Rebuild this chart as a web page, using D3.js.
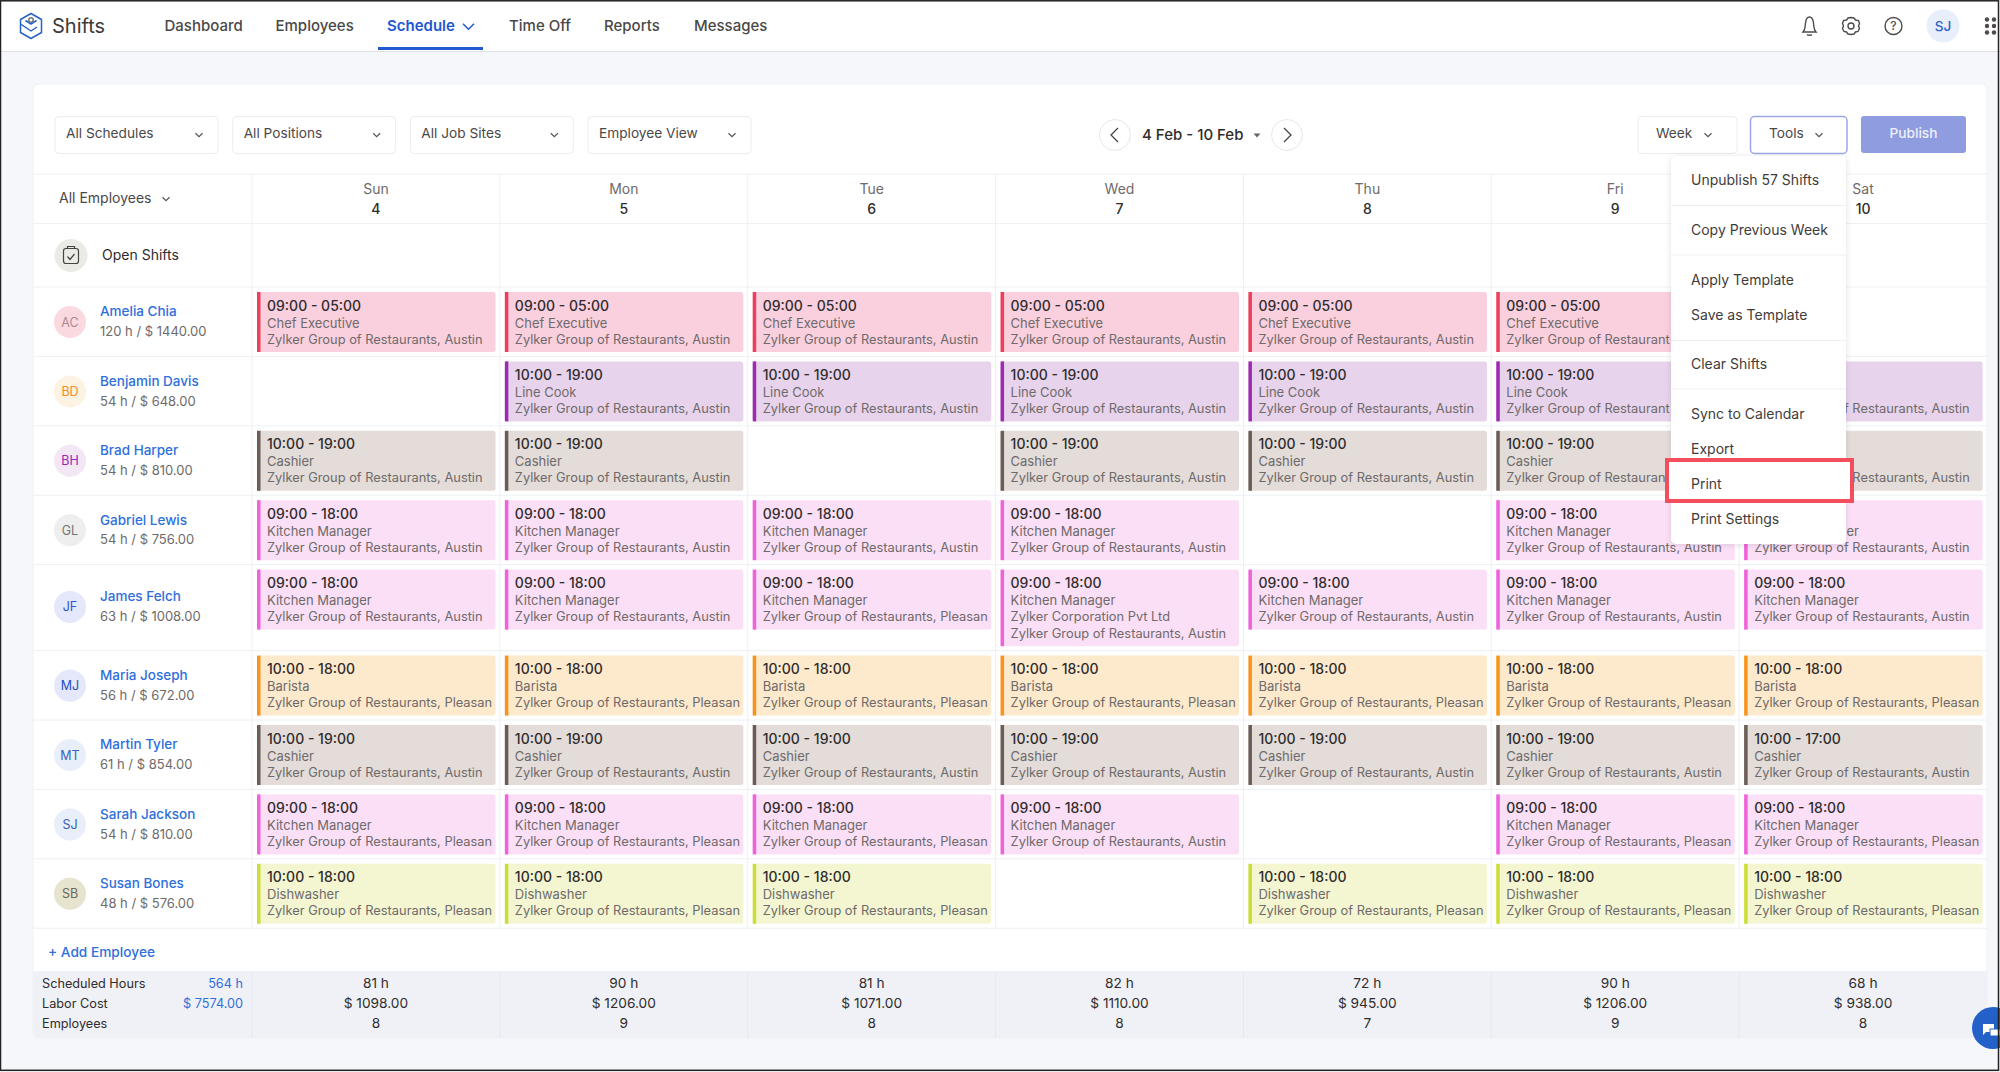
<!DOCTYPE html>
<html>
<head>
<meta charset="utf-8">
<script src="https://cdn.jsdelivr.net/npm/d3@7"></script>
<style>
  html, body { margin: 0; padding: 0; background: #fff; }
  svg { display: block; }
  text { font-family: Inter, "Noto Sans", sans-serif; }
</style>
</head>
<body>
<div id="chart"></div>
<script>
// labels
const navItems = ["Dashboard", "Employees", "Schedule", "Time Off", "Reports", "Messages"];
const filters = ["All Schedules", "All Positions", "All Job Sites", "Employee View"];
const menuItems = ["Unpublish 57 Shifts", "Copy Previous Week", "Apply Template", "Save as Template", "Clear Shifts", "Sync to Calendar", "Export", "Print", "Print Settings"];
const days = ["Sun", "Mon", "Tue", "Wed", "Thu", "Fri", "Sat"];
const dates = [4, 5, 6, 7, 8, 9, 10];

// employees
const employees = ["Amelia Chia", "Benjamin Davis", "Brad Harper", "Gabriel Lewis", "James Felch", "Maria Joseph", "Martin Tyler", "Sarah Jackson", "Susan Bones"];
const initials = ["AC", "BD", "BH", "GL", "JF", "MJ", "MT", "SJ", "SB"];
const employeeHours = [120, 54, 54, 54, 63, 56, 61, 54, 48];
const employeeCost = ["1440.00", "648.00", "810.00", "756.00", "1008.00", "672.00", "854.00", "810.00", "576.00"];
const positions = ["Chef Executive", "Line Cook", "Cashier", "Kitchen Manager", "Kitchen Manager", "Barista", "Cashier", "Kitchen Manager", "Dishwasher"];

// shift time by employee and day, null = no shift
const shiftTimes = [
  ["09:00 - 05:00", "09:00 - 05:00", "09:00 - 05:00", "09:00 - 05:00", "09:00 - 05:00", "09:00 - 05:00", null],
  [null, "10:00 - 19:00", "10:00 - 19:00", "10:00 - 19:00", "10:00 - 19:00", "10:00 - 19:00", "10:00 - 19:00"],
  ["10:00 - 19:00", "10:00 - 19:00", null, "10:00 - 19:00", "10:00 - 19:00", "10:00 - 19:00", "10:00 - 19:00"],
  ["09:00 - 18:00", "09:00 - 18:00", "09:00 - 18:00", "09:00 - 18:00", null, "09:00 - 18:00", "09:00 - 18:00"],
  ["09:00 - 18:00", "09:00 - 18:00", "09:00 - 18:00", "09:00 - 18:00", "09:00 - 18:00", "09:00 - 18:00", "09:00 - 18:00"],
  ["10:00 - 18:00", "10:00 - 18:00", "10:00 - 18:00", "10:00 - 18:00", "10:00 - 18:00", "10:00 - 18:00", "10:00 - 18:00"],
  ["10:00 - 19:00", "10:00 - 19:00", "10:00 - 19:00", "10:00 - 19:00", "10:00 - 19:00", "10:00 - 19:00", "10:00 - 17:00"],
  ["09:00 - 18:00", "09:00 - 18:00", "09:00 - 18:00", "09:00 - 18:00", null, "09:00 - 18:00", "09:00 - 18:00"],
  ["10:00 - 18:00", "10:00 - 18:00", "10:00 - 18:00", null, "10:00 - 18:00", "10:00 - 18:00", "10:00 - 18:00"]
];
const austin = "Zylker Group of Restaurants, Austin";
const pleasan = "Zylker Group of Restaurants, Pleasan";
const corp = "Zylker Corporation Pvt Ltd";
const shiftSites = [
  [[austin], [austin], [austin], [austin], [austin], [austin], []],
  [[], [austin], [austin], [austin], [austin], [austin], [austin]],
  [[austin], [austin], [], [austin], [austin], [austin], [austin]],
  [[austin], [austin], [austin], [austin], [], [austin], [austin]],
  [[austin], [austin], [pleasan], [corp, austin], [austin], [austin], [austin]],
  [[pleasan], [pleasan], [pleasan], [pleasan], [pleasan], [pleasan], [pleasan]],
  [[austin], [austin], [austin], [austin], [austin], [austin], [austin]],
  [[pleasan], [pleasan], [pleasan], [austin], [], [pleasan], [pleasan]],
  [[pleasan], [pleasan], [pleasan], [], [pleasan], [pleasan], [pleasan]]
];

// footer
const totalHours = ["81 h", "90 h", "81 h", "82 h", "72 h", "90 h", "68 h"];
const totalCost = ["$ 1098.00", "$ 1206.00", "$ 1071.00", "$ 1110.00", "$ 945.00", "$ 1206.00", "$ 938.00"];
const totalPeople = [8, 9, 8, 8, 7, 9, 8];

// colours by position: [fill, accent]
const positionColor = {
  "Chef Executive": ["#fad0df", "#ec3f5c"],
  "Line Cook": ["#e8d3ec", "#9c2bb0"],
  "Cashier": ["#e3dcd9", "#6b5c55"],
  "Kitchen Manager": ["#fbdff7", "#ee62da"],
  "Barista": ["#fde9cc", "#f7941d"],
  "Dishwasher": ["#f4f6d2", "#cddc39"]
};
const avatarColor = {
  AC: ["#fbd9e0", "#a98a90"], BD: ["#fdf3e3", "#f58a2c"], BH: ["#f3e6f5", "#9c27b0"],
  GL: ["#eeeeee", "#757575"], JF: ["#e4e8fa", "#2f55c8"], MJ: ["#e4e8fa", "#2050c0"],
  MT: ["#e8eefa", "#3a62b8"], SJ: ["#e8eefa", "#3a62b8"], SB: ["#e6e3cf", "#6b6a5c"]
};

const W = 2000, H = 1072;
const ink = "#2f2c2c", soft = "#6e6a6a", navInk = "#4b4848", blue = "#2f6fdc", activeBlue = "#2257cf", gridLine = "#eef0f3";

const svg = d3.select("#chart").append("svg").attr("width", W).attr("height", H);

function label(g, x, y, str, size, color, anchor, weight) {
  return g.append("text").attr("x", x).attr("y", y).attr("dy", "0.36em")
    .attr("font-size", size).attr("fill", color)
    .attr("text-anchor", anchor || "start").attr("font-weight", weight || 400).text(str);
}
function chevron(g, cx, cy, w, color, sw) {
  g.append("path").attr("d", "M" + (cx - w) + "," + (cy - w / 2) + "L" + cx + "," + (cy + w / 2) + "L" + (cx + w) + "," + (cy - w / 2))
    .attr("fill", "none").attr("stroke", color).attr("stroke-width", sw || 1.2);
}

// page + shadow filter
const defs = svg.append("defs");
const menuShadow = defs.append("filter").attr("id", "menuShadow").attr("x", "-10%").attr("y", "-10%").attr("width", "120%").attr("height", "120%");
menuShadow.append("feDropShadow").attr("dx", 0).attr("dy", 1).attr("stdDeviation", 3).attr("flood-color", "#000").attr("flood-opacity", 0.12);

svg.append("rect").attr("width", W).attr("height", H).attr("fill", "#f6f7fa");

// top bar
const header = svg.append("g");
header.append("rect").attr("width", W).attr("height", 51).attr("fill", "#fff");
header.append("line").attr("x1", 0).attr("x2", W).attr("y1", 51.5).attr("y2", 51.5).attr("stroke", "#dfe1e6");
const logo = header.append("g").attr("transform", "translate(31,26)").attr("fill", "none").attr("stroke", "#2563c9").attr("stroke-width", 1.5).attr("stroke-linejoin", "round");
logo.append("path").attr("d", "M0,-12.5L10.5,-6.5V6.5L0,12.5L-10.5,6.5V-6.5Z");
logo.append("path").attr("d", "M-10.5,-2L0,5L6,1M-5.5,-5.5L0,-2L5.5,-5.5");
logo.append("circle").attr("cy", -6).attr("r", 2.2).attr("stroke", "#777");
label(header, 52, 26, "Shifts", 20, "#3c3a3a");
const navX = d3.scaleOrdinal(navItems, [164.5, 275.5, 387, 509, 604, 694]);
navItems.forEach(function (d) {
  label(header, navX(d), 26, d, 15, d == "Schedule" ? activeBlue : navInk, "start", d == "Schedule" ? 600 : 500);
});
chevron(header, 468.5, 26.5, 5.5, activeBlue, 1.5);
header.append("rect").attr("x", 378).attr("y", 47).attr("width", 105).attr("height", 3).attr("fill", activeBlue);

const icons = header.append("g").attr("fill", "none").attr("stroke", "#4f4b4b").attr("stroke-width", 1.4);
icons.append("path").attr("d", "M1803,32H1816C1813.5,29.5 1814,27 1813.5,23C1813,18.5 1811.5,17 1809.5,17C1807.5,17 1806,18.5 1805.5,23C1805,27 1805.5,29.5 1803,32ZM1807,34.5C1808,35.5 1811,35.5 1812,34.5");
icons.append("circle").attr("cx", 1851).attr("cy", 26).attr("r", 3);
icons.append("path").attr("d", "M1851,17.5L1854,18L1855.5,20L1858.5,20.5L1859.5,23.5L1858.5,26L1859.5,28.5L1858,31.5L1855.5,32L1854,34L1851,34.5L1848,34L1846.5,32L1844,31.5L1842.5,28.5L1843.5,26L1842.5,23.5L1843.5,20.5L1846.5,20L1848,18Z");
icons.append("circle").attr("cx", 1893.5).attr("cy", 26).attr("r", 8.5);
label(header, 1893.5, 26, "?", 12, "#4f4b4b", "middle", 500);
header.append("circle").attr("cx", 1943).attr("cy", 26).attr("r", 16.5).attr("fill", "#e8eefa");
label(header, 1943, 26, "SJ", 13.5, "#2f62c8", "middle", 500);
d3.cross([1987, 1994], [19.5, 26, 32.5]).forEach(function (d) {
  header.append("circle").attr("cx", d[0]).attr("cy", d[1]).attr("r", 2.2).attr("fill", "#4f4b4b");
});

// card
svg.append("rect").attr("x", 33).attr("y", 84).attr("width", 1954).attr("height", 954).attr("rx", 6).attr("fill", "#fff").attr("stroke", "#f0f1f4");

// filter bar
const bar = svg.append("g");
function box(x, w, txt, textX, caretX, stroke) {
  bar.append("rect").attr("x", x).attr("y", 116.5).attr("width", w).attr("height", 37).attr("rx", 4).attr("fill", "#fff").attr("stroke", stroke || "#eaecef").attr("stroke-width", stroke ? 1.5 : 1);
  label(bar, textX, 133.5, txt, 13.7, navInk);
  chevron(bar, caretX, 135, 3.5, "#555");
}
const filterX = d3.scalePoint(filters, [55, 588]);
filters.forEach(function (d) {
  box(filterX(d), 163, d, filterX(d) + 11, filterX(d) + 144);
});
box(1638, 99, "Week", 1656, 1708);
box(1750.5, 96.5, "Tools", 1769, 1819, "#9aa8e6");
bar.append("rect").attr("x", 1861).attr("y", 116).attr("width", 105).attr("height", 37).attr("rx", 3).attr("fill", "#8f9ce0");
label(bar, 1913.5, 133.5, "Publish", 13.7, "#eef0fb", "middle", 500);
[[1115, -1], [1287, 1]].forEach(function (d) {
  bar.append("circle").attr("cx", d[0]).attr("cy", 135).attr("r", 15.5).attr("fill", "#fff").attr("stroke", "#e6e8ec");
  bar.append("path").attr("d", "M" + (d[0] - d[1] * 3) + ",128L" + (d[0] + d[1] * 4) + ",135L" + (d[0] - d[1] * 3) + ",142")
    .attr("fill", "none").attr("stroke", "#444").attr("stroke-width", 1.3);
});
label(bar, 1142, 135, "4 Feb - 10 Feb", 15, ink, "start", 500);
bar.append("path").attr("d", "M1253.5,133.5h7l-3.5,4Z").attr("fill", "#666");

// scales
const x = d3.scaleBand(days, [252, 1987]);
const lineStep = 16.6, baseRow = 69.4;
const rowExtra = shiftSites.map(function (row) {
  return d3.max(row, function (s) { return Math.max(s.length - 1, 0); });
});
const rowTops = Array.from(d3.cumsum([287].concat(rowExtra.map(function (e) { return baseRow + e * lineStep; }))));
const y = d3.scaleOrdinal(employees, rowTops);
const tableBottom = rowTops[rowTops.length - 1];

// grid lines
const grid = svg.append("g").attr("stroke", gridLine);
[174, 223.5].concat(rowTops).forEach(function (v) {
  grid.append("line").attr("x1", 33).attr("x2", 1987).attr("y1", v).attr("y2", v);
});
days.forEach(function (d) {
  grid.append("line").attr("x1", x(d)).attr("x2", x(d)).attr("y1", 174).attr("y2", tableBottom);
});

// day header through axes
const dayAxis = svg.append("g").attr("transform", "translate(0,194)").call(d3.axisTop(x).tickSize(0).tickPadding(0));
const dateAxis = svg.append("g").attr("transform", "translate(0,214)")
  .call(d3.axisTop(x).tickSize(0).tickPadding(0).tickFormat(function (d, i) { return dates[i]; }));
dayAxis.select(".domain").remove();
dateAxis.select(".domain").remove();
dayAxis.selectAll("text").attr("font-size", 14).attr("fill", soft).attr("font-family", "Inter");
dateAxis.selectAll("text").attr("font-size", 14).attr("fill", ink).attr("font-weight", 500).attr("font-family", "Inter");

// left column
const leftCol = svg.append("g");
label(leftCol, 59, 198, "All Employees", 14, navInk);
chevron(leftCol, 166, 199, 3.5, "#555");
leftCol.append("circle").attr("cx", 71).attr("cy", 255.5).attr("r", 16.5).attr("fill", "#ebebe6");
leftCol.append("rect").attr("x", 63.5).attr("y", 248.5).attr("width", 15).attr("height", 15).attr("rx", 2.5).attr("fill", "none").attr("stroke", "#444").attr("stroke-width", 1.2);
leftCol.append("path").attr("d", "M67.5,248.5v-2h7v2M67.5,256.5l2.5,3l4.5,-5.5").attr("fill", "none").attr("stroke", "#444").attr("stroke-width", 1.2);
label(leftCol, 102, 255, "Open Shifts", 14, ink);

employees.forEach(function (name, i) {
  const top0 = y(name);
  const mid = top0 + 35 + rowExtra[i] * lineStep / 2 - rowExtra[i];
  const c = avatarColor[initials[i]];
  leftCol.append("circle").attr("cx", 70).attr("cy", mid).attr("r", 16).attr("fill", c[0]);
  label(leftCol, 70, mid, initials[i], 12.5, c[1], "middle");
  label(leftCol, 100, mid - 10.5, name, 13.5, blue, "start", 500);
  label(leftCol, 100, mid + 9.5, employeeHours[i] + " h / $ " + employeeCost[i], 13, soft);
});
label(leftCol, 48, 952, "+ Add Employee", 13.7, blue, "start", 500);

// shifts
const cellPad = 5, cardInset = 243.5;
const cells = [];
employees.forEach(function (name, r) {
  days.forEach(function (day, c) {
    if (shiftTimes[r][c]) {
      cells.push({ name: name, day: day, time: shiftTimes[r][c], position: positions[r], sites: shiftSites[r][c] });
    }
  });
});
const shift = svg.append("g").selectAll("g").data(cells).enter().append("g")
  .attr("transform", function (d) { return "translate(" + x(d.day) + "," + y(d.name) + ")"; });
shift.append("rect").attr("x", cellPad).attr("y", cellPad).attr("rx", 2.5)
  .attr("width", cardInset - cellPad)
  .attr("height", function (d) { return 60 + (d.sites.length - 1) * lineStep; })
  .attr("fill", function (d) { return positionColor[d.position][0]; });
shift.append("rect").attr("x", cellPad).attr("y", cellPad).attr("width", 3.5)
  .attr("height", function (d) { return 60 + (d.sites.length - 1) * lineStep; })
  .attr("fill", function (d) { return positionColor[d.position][1]; });

// the open Tools menu hides part of the Fri and Sat cards, only the visible part of a text is kept
// a glyph that is only partly covered stays, the menu drawn later cuts it
const menuBox = { x0: 1671, x1: 1846, y0: 156, y1: 544 };
const printBox = { x0: 1665, x1: 1854, y0: 458, y1: 503 };
const glyphSlack = 5;
function visiblePart(t, absX, absY) {
  const b = absY >= printBox.y0 && absY <= printBox.y1 ? printBox : menuBox;
  if (absY < b.y0 || absY > b.y1) return;
  const node = t.node(), str = t.text();
  const end = absX + node.getComputedTextLength();
  if (end <= b.x0 || absX >= b.x1) return;
  if (absX < b.x0) {
    let n = str.length;
    while (n > 0 && absX + node.getSubStringLength(0, n) > b.x0 + glyphSlack) n--;
    t.text(str.slice(0, n));
  } else if (end <= b.x1) {
    t.remove();
  } else {
    let n = 0;
    while (n < str.length && absX + node.getSubStringLength(0, n) < b.x1 - glyphSlack) n++;
    t.attr("x", +t.attr("x") + node.getSubStringLength(0, n));
    t.text(str.slice(n));
  }
}
shift.each(function (d) {
  const g = d3.select(this);
  const x0 = x(d.day), y0 = y(d.name);
  visiblePart(label(g, 15, 18.5, d.time, 14, ink, "start", 500), x0 + 15, y0 + 18.5);
  visiblePart(label(g, 15, 36, d.position, 13, soft), x0 + 15, y0 + 36);
  d.sites.forEach(function (s, k) {
    const yy = 52 + k * lineStep;
    visiblePart(label(g, 15, yy, s, 12.85, soft), x0 + 15, y0 + yy);
  });
});

// footer
const foot = svg.append("g");
foot.append("path").attr("d", "M33,971H1987V1032a6,6 0 0 1 -6,6H39a6,6 0 0 1 -6,-6Z").attr("fill", "#eff1f7");
days.forEach(function (d, i) {
  foot.append("line").attr("x1", x(d)).attr("x2", x(d)).attr("y1", 971).attr("y2", 1038).attr("stroke", "#e6e8ef");
  const cx = x(d) + x.bandwidth() / 2;
  label(foot, cx, 983, totalHours[i], 13.7, ink, "middle");
  label(foot, cx, 1003, totalCost[i], 13.7, ink, "middle");
  label(foot, cx, 1023, totalPeople[i], 13.7, ink, "middle");
});
label(foot, 42, 983, "Scheduled Hours", 12.7, ink);
label(foot, 42, 1003, "Labor Cost", 12.7, ink);
label(foot, 42, 1023, "Employees", 12.7, ink);
label(foot, 243, 983, "564 h", 12.7, blue, "end");
label(foot, 243, 1003, "$ 7574.00", 12.7, blue, "end");

// tools menu
const menu = svg.append("g");
menu.append("rect").attr("x", menuBox.x0).attr("y", menuBox.y0).attr("width", menuBox.x1 - menuBox.x0).attr("height", menuBox.y1 - menuBox.y0).attr("rx", 5).attr("fill", "#fff").attr("filter", "url(#menuShadow)");
[205.5, 255, 340.5, 389].forEach(function (v) {
  menu.append("line").attr("x1", menuBox.x0).attr("x2", menuBox.x1).attr("y1", v).attr("y2", v).attr("stroke", "#eeeff2");
});
menu.append("rect").attr("x", 1667).attr("y", 460).attr("width", 185).attr("height", 41).attr("fill", "#fff").attr("stroke", "#f44d5c").attr("stroke-width", 4);
const menuY = d3.scaleOrdinal(menuItems, [180, 230, 280, 315, 364, 414, 449, 484, 519]);
menuItems.forEach(function (d) {
  label(menu, 1691, menuY(d), d, 14, "#3f3c3c");
});

// chat bubble
const chat = svg.append("g");
chat.append("circle").attr("cx", 1993).attr("cy", 1028).attr("r", 21).attr("fill", "#2361c8");
chat.append("path").attr("d", "M1983,1024h11v8h-8l-3,3Z").attr("fill", "#fff");
chat.append("path").attr("d", "M1990,1029h10v7h-10Z").attr("fill", "#fff").attr("stroke", "#2361c8");

// screenshot frame
svg.append("rect").attr("x", 0.5).attr("y", 0.8).attr("width", 1998).attr("height", 1069.5).attr("fill", "none").attr("stroke", "#222").attr("stroke-width", 1.5);
</script>
</body>
</html>
